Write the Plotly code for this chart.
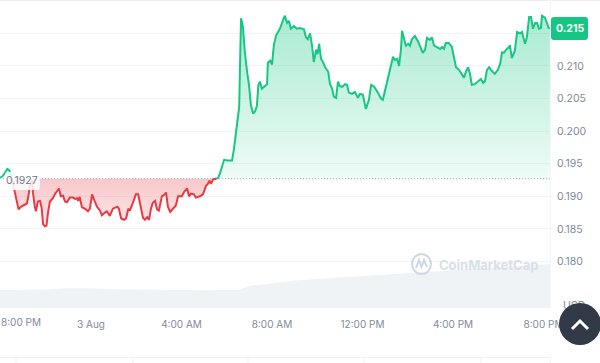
import numpy as np
import plotly.graph_objects as go

# minutes relative to midnight of 3 Aug
minutes = [-241,-236,-228,-222,-217,-212,-207,-203,-199,-192,-186,-178,-170,-166,-162,-156,-154,-149,-146,-141,-135,-131,-127,-122,-118,-114,-109,-101,-95,-85,-80,-74,-69,-64,-56,-48,-42,-37,-34,-30,-24,-16,-8,-3,3,8,16,24,29,37,42,50,58,66,70,74,80,88,93,99,103,111,119,125,130,138,143,149,154,159,164,170,175,180,188,196,199,204,210,217,225,231,241,247,255,260,265,273,278,289,297,305,310,314,318,324,332,337,342,347,353,361,369,374,379,387,393,395,398,403,408,414,419,424,430,435,440,444,448,453,459,467,469,475,480,485,491,496,501,509,514,520,525,530,538,546,554,565,570,575,581,586,591,597,601,605,610,615,621,629,634,639,644,650,655,660,666,674,679,684,692,700,708,713,721,729,737,743,751,761,769,774,780,788,796,801,806,812,817,822,825,830,835,841,846,851,859,867,873,880,886,891,899,904,910,918,926,931,936,941,949,957,963,968,976,981,989,995,1000,1005,1010,1018,1026,1034,1040,1045,1050,1056,1063,1071,1079,1085,1090,1095,1101,1109,1111,1116,1124,1130,1138,1143,1151,1156,1162,1167,1172,1178,1183,1188,1193,1196,1204,1209,1214,1217]
prices = [.1929,.1930,.1936,.1942,.1940,.1933,.1919,.1908,.1901,.1880,.1884,.1887,.1889,.1900,.1916,.1924,.1906,.1884,.1877,.1892,.1893,.1883,.1857,.1854,.1855,.1875,.1892,.1897,.1904,.1912,.1900,.1901,.1892,.1891,.1898,.1898,.1896,.1897,.1893,.1899,.1883,.1881,.1877,.1881,.1903,.1895,.1884,.1878,.1871,.1875,.1877,.1870,.1881,.1883,.1884,.1881,.1866,.1864,.1866,.1881,.1878,.1890,.1903,.1903,.1890,.1867,.1864,.1868,.1864,.1881,.1890,.1893,.1880,.1878,.1900,.1903,.1906,.1884,.1876,.1881,.1886,.1900,.1900,.1907,.1912,.1900,.1904,.1903,.1898,.1900,.1903,.1916,.1919,.1924,.1919,.1926,.1927,.1928,.1935,.1944,.1956,.1955,.1955,.1955,.1972,.2010,.2037,.2094,.2173,.2160,.2121,.2091,.2071,.2040,.2027,.2030,.2039,.2071,.2076,.2065,.2068,.2072,.2105,.2108,.2102,.2132,.2147,.2152,.2157,.2170,.2177,.2166,.2169,.2157,.2161,.2157,.2158,.2156,.2144,.2141,.2150,.2132,.2106,.2125,.2118,.2134,.2111,.2106,.2098,.2091,.2072,.2066,.2053,.2051,.2076,.2069,.2068,.2072,.2071,.2059,.2057,.2060,.2051,.2057,.2056,.2034,.2048,.2071,.2068,.2059,.2050,.2048,.2063,.2079,.2100,.2114,.2109,.2111,.2100,.2125,.2154,.2143,.2131,.2134,.2131,.2141,.2146,.2138,.2129,.2120,.2125,.2143,.2140,.2144,.2131,.2128,.2126,.2129,.2126,.2135,.2135,.2129,.2112,.2098,.2094,.2089,.2082,.2092,.2098,.2088,.2071,.2072,.2076,.2080,.2074,.2077,.2094,.2098,.2092,.2088,.2094,.2103,.2121,.2120,.2125,.2129,.2132,.2112,.2123,.2152,.2150,.2152,.2134,.2144,.2175,.2175,.2157,.2166,.2166,.2157,.2158,.2177,.2174,.2164,.2158,.2157]
vol_minutes = [-241,-180,-120,-60,0,60,120,180,240,300,360,390,420,480,540,600,660,720,780,840,900,960,1020,1080,1140,1200,1217]
volumes = [18,18,18.5,19.7,19.7,18.7,18.3,18,17.7,17.8,18,18,22,24.7,27.5,29,30.5,32,33.5,35,36.4,38,39.3,40.8,42.2,43.7,44]
base_price = 0.1927
tick_prices = [.18,.185,.19,.195,.2,.205,.21,.215]
tick_labels = ["0.180","0.185","0.190","0.195","0.200","0.205","0.210",""]
time_ticks = [0,240,480,720,960,1200]
time_labels = ["3 Aug","4:00 AM","8:00 AM","12:00 PM","4:00 PM","8:00 PM"]

W, H, PW, PH = 600, 363, 550, 308
GREEN, RED, GREY, GRID = "#16c784", "#ea3943", "#808a9d", "#f3f4f6"
FONT = "Inter"
def px(x): return x / PW
def py(y): return 1 - y / PH

# insert crossing points so that colours change exactly on the baseline
mx, pr = [minutes[0]], [prices[0]]
for i in range(1, len(minutes)):
    a, b = prices[i-1], prices[i]
    if (a - base_price) * (b - base_price) < 0:
        t = (base_price - a) / (b - a)
        mx.append(minutes[i-1] + t * (minutes[i] - minutes[i-1])); pr.append(base_price)
    mx.append(minutes[i]); pr.append(b)
mx, pr = np.array(mx), np.array(pr)
green_line = np.where(pr >= base_price, pr, np.nan)
red_line = np.where(pr <= base_price, pr, np.nan)

fig = go.Figure()
fig.add_trace(go.Scatter(x=vol_minutes, y=volumes, yaxis="y2", mode="lines", line=dict(width=0),
                         fill="tozeroy", fillcolor="#f0f3f6"))
base = np.full_like(pr, base_price)
def band(y, scale, start, stop):
    fig.add_trace(go.Scatter(x=mx, y=base, mode="lines", line=dict(width=0, color="rgba(0,0,0,0)")))
    fig.add_trace(go.Scatter(x=mx, y=y, mode="lines", line=dict(width=0, color="rgba(0,0,0,0)"), fill="tonexty",
                             fillgradient=dict(type="vertical", colorscale=scale, start=start, stop=stop)))
band(np.maximum(pr, base_price), [[0, "rgba(22,199,132,0.07)"], [1, "rgba(22,199,132,0.36)"]], base_price, 0.2173)
band(np.minimum(pr, base_price), [[0, "rgba(234,57,67,0.12)"], [1, "rgba(234,57,67,0.28)"]], 0.1854, base_price)
fig.add_trace(go.Scatter(x=[-241, 1217], y=[base_price, base_price], mode="lines",
                         line=dict(color="#9aa1ad", width=1, dash="1px 2px")))
fig.add_trace(go.Scatter(x=mx, y=green_line, mode="lines", line=dict(color=GREEN, width=2)))
fig.add_trace(go.Scatter(x=mx, y=red_line, mode="lines", line=dict(color=RED, width=2)))

def rrect(x0, y0, x1, y1, r):
    X0, X1, Y0, Y1 = px(x0), px(x1), py(y0), py(y1)
    rx, ry = r / PW, r / PH
    return (f"M{X0+rx},{Y0} L{X1-rx},{Y0} Q{X1},{Y0} {X1},{Y0-ry} L{X1},{Y1+ry} Q{X1},{Y1} {X1-rx},{Y1} "
            f"L{X0+rx},{Y1} Q{X0},{Y1} {X0},{Y1+ry} L{X0},{Y0-ry} Q{X0},{Y0} {X0+rx},{Y0} Z")
def seg(pts):
    return "M" + " L".join(f"{px(a)},{py(b)}" for a, b in pts)
pap = dict(xref="paper", yref="paper")
shapes = [
    dict(type="path", path=seg([(0, 0.5), (600, 0.5)]), line=dict(color="#eceef1", width=1), **pap),
    dict(type="path", path=seg([(550.5, 0), (550.5, 308)]), line=dict(color="#f5f6f8", width=1), **pap),
    dict(type="path", path=seg([(0, 357.5), (550, 357.5)]), line=dict(color="#eff1f4", width=1), **pap),
]
for vx in [16, 133, 248, 364, 481, 550]:
    shapes.append(dict(type="path", path=seg([(vx, 357.5), (vx, 363)]), line=dict(color="#eff1f4", width=1), **pap))
shapes += [
    dict(type="path", path=rrect(5, 172, 40, 190, 3), fillcolor="rgba(255,255,255,0.85)", line=dict(width=0), **pap),
    dict(type="path", path=rrect(551, 17, 588, 40, 3), fillcolor=GREEN, line=dict(width=0), **pap),
    dict(type="circle", x0=px(412), x1=px(431), y0=py(254), y1=py(274), line=dict(color="#cfd6e4", width=2), **pap),
    dict(type="path", path=seg([(416, 268), (419, 260), (421.5, 267), (424, 260), (427, 267)]), line=dict(color="#cfd6e4", width=2), **pap),
    dict(type="circle", x0=px(559), x1=px(601), y0=py(303), y1=py(345), fillcolor="#323a47", line=dict(width=0), **pap),
    dict(type="path", path=seg([(572, 329), (580, 321), (588, 329)]), line=dict(color="white", width=3), **pap),
]
for s in shapes:
    s["layer"] = "above"

note = dict(showarrow=False, xanchor="center", yanchor="middle", **pap)
annotations = [
    dict(x=px(21.5), y=py(180.5), text="0.1927", font=dict(family=FONT, size=10.5, color="#707a8c"), **note),
    dict(x=px(569.5), y=py(28.5), text="<b>0.215</b>", font=dict(family=FONT, size=10.5, color="white"), **note),
    dict(x=px(488), y=py(265), text="<b>CoinMarketCap</b>", font=dict(family=FONT, size=13, color="#d8deea"), **note),
    dict(x=px(20.5), y=py(322), text="8:00 PM", font=dict(family=FONT, size=10, color=GREY), **note),
]

fig.update_layout(
    width=W, height=H, autosize=False, showlegend=False, hovermode=False,
    plot_bgcolor="white", paper_bgcolor="white",
    margin=dict(l=0, r=W-PW, t=0, b=H-PH, autoexpand=False),
    shapes=shapes, annotations=annotations,
    xaxis=dict(range=[-241.3, 1217.3], tickvals=time_ticks, ticktext=time_labels, showgrid=False, zeroline=False,
               showline=False, ticks="outside", ticklen=7, tickcolor="rgba(0,0,0,0)",
               tickfont=dict(family=FONT, size=10, color=GREY)),
    yaxis=dict(range=[0.17287, 0.22011], side="right", tickvals=tick_prices, ticktext=tick_labels, gridcolor=GRID,
               gridwidth=1, zeroline=False, showline=False, ticks="outside", ticklen=4, tickcolor="rgba(0,0,0,0)",
               tickfont=dict(family=FONT, size=10.5, color=GREY)),
    yaxis2=dict(range=[0, 308], overlaying="y", side="right", tickvals=[2.5], ticktext=["USD"], showgrid=False,
                zeroline=False, showline=False, ticks="outside", ticklen=10, tickcolor="rgba(0,0,0,0)",
                tickfont=dict(family=FONT, size=10.5, color=GREY)),
)
fig.write_html("out.html", config=dict(displayModeBar=False),
               post_script="document.body.style.margin='0';document.documentElement.style.overflow='hidden';")
